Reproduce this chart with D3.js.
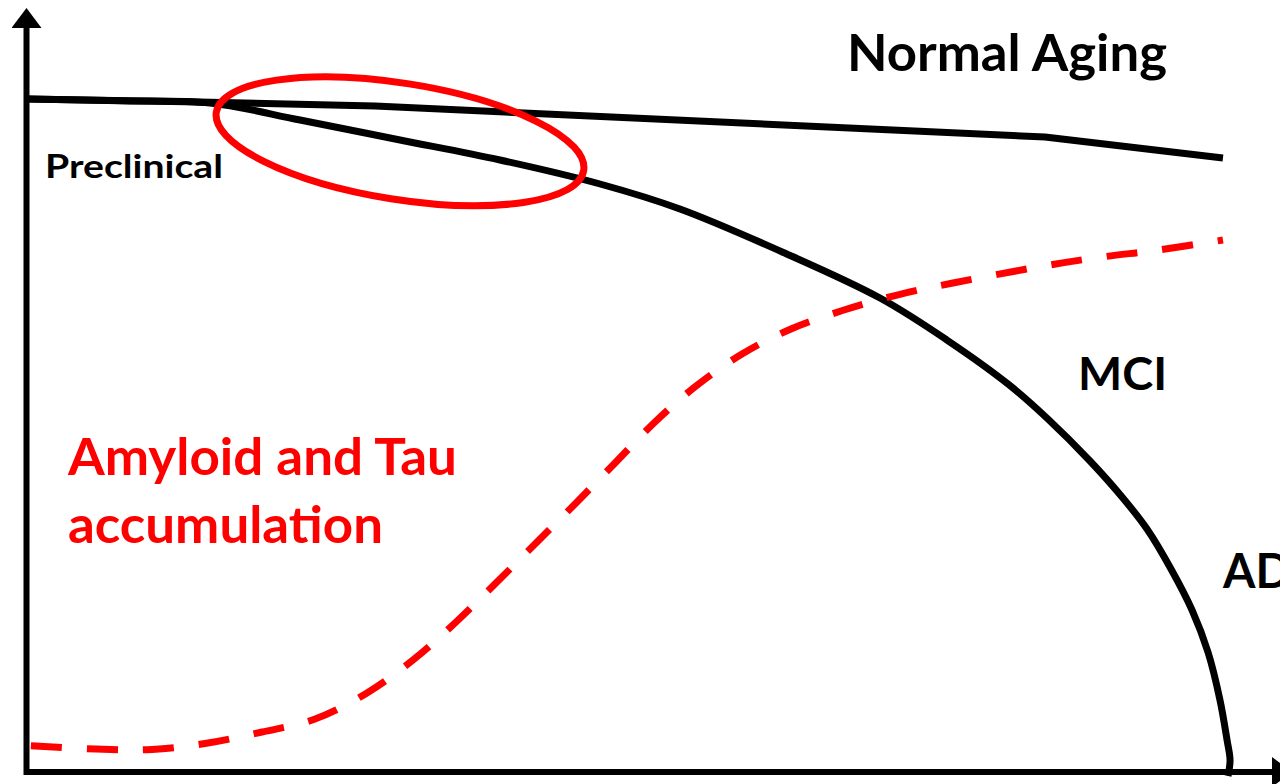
<!DOCTYPE html>
<html><head><meta charset="utf-8">
<script src="https://cdn.jsdelivr.net/npm/d3@7"></script>
<style>html,body{margin:0;padding:0;background:#fff;overflow:hidden}</style>
</head><body>
<svg id="chart" width="1280" height="784"></svg>
<script>
// ---- data (x: disease time 0..100, y: cognition / biomarker level 0..100) ----
const normalAgingX = [0, 14.33, 28.92, 84.75, 99.58];
const normalAgingY = [96.14, 95.71, 95.14, 90.71, 87.71];

const declineX = [0, 7.67, 15.17, 22.67, 31, 39.33, 47.67, 54.33, 62.67, 71, 76.58, 81.67, 85.08, 88.5, 91.17, 93.25, 95.25, 97, 98.33, 99.33, 99.92, 100.17, 100];
const declineY = [96.14, 95.9, 95.57, 93.14, 90.29, 87.43, 84.0, 80.43, 74.43, 67.71, 61.71, 55.43, 50.29, 44.43, 39.29, 34.71, 29, 23.14, 17.14, 10.29, 4.57, 1.71, -0.57];

const amyloidX = [0, 5.67, 10.33, 15, 19.5, 23.92, 28.25, 32.08, 35.67, 39.08, 42.42, 45.75, 49.08, 52.25, 55.67, 59.5, 63.58, 68, 72.42, 77.08, 85.17, 89.5, 94.17, 99.58];
const amyloidY = [3.79, 3.29, 3.21, 4.14, 5.71, 7.57, 11.29, 16, 21.43, 27.14, 32.86, 38.57, 44.43, 50, 55.14, 59.71, 63.29, 66, 68.14, 69.86, 72.43, 73.57, 74.57, 76];

const ellipseCenter = [31, 90.1];
const ellipseRadii = [15.5, 8.3];
const ellipseAngle = 9;

const labels = ["Normal Aging", "Preclinical", "MCI", "AD", "Amyloid and Tau", "accumulation"];

// ---- drawing ----
const svg = d3.select("#chart");
const x = d3.scaleLinear().domain([0, 100]).range([28, 1228]);
const y = d3.scaleLinear().domain([0, 100]).range([772, 72]);

const defs = svg.append("defs");
defs.append("marker").attr("id","arrow").attr("viewBox","0 0 20 30")
  .attr("refX",2).attr("refY",15).attr("markerWidth",20).attr("markerHeight",30)
  .attr("markerUnits","userSpaceOnUse").attr("orient","auto")
  .append("path").attr("d","M0,0 L20,15 L0,30 Z").attr("fill","#000");

// axes
svg.append("line").attr("x1", x(0) - 1.5).attr("y1", y(0) + 3).attr("x2", x(0) - 1.5).attr("y2", 26)
  .attr("stroke","#000").attr("stroke-width",6).attr("marker-end","url(#arrow)");
svg.append("line").attr("x1", x(0) - 4).attr("y1", y(0)).attr("x2", 1274).attr("y2", y(0))
  .attr("stroke","#000").attr("stroke-width",6).attr("marker-end","url(#arrow)");

const pts = (xs, ys) => xs.map((v,i)=>[v, ys[i]]);

// normal aging line
svg.append("path").datum(pts(normalAgingX, normalAgingY))
  .attr("d", d3.line().x(d=>x(d[0])).y(d=>y(d[1])).curve(d3.curveLinear))
  .attr("fill","none").attr("stroke","#000").attr("stroke-width",7).attr("stroke-linejoin","round");

// decline line
svg.append("path").datum(pts(declineX, declineY))
  .attr("d", d3.line().x(d=>x(d[0])).y(d=>y(d[1])).curve(d3.curveCatmullRom.alpha(0.5)))
  .attr("fill","none").attr("stroke","#000").attr("stroke-width",7);

// amyloid dashed line
svg.append("path").datum(pts(amyloidX, amyloidY))
  .attr("d", d3.line().x(d=>x(d[0])).y(d=>y(d[1])).curve(d3.curveCatmullRom.alpha(0.5)))
  .attr("fill","none").attr("stroke","#ff0000").attr("stroke-width",7)
  .attr("stroke-dasharray","31,25").attr("stroke-dashoffset",-3);

// ellipse highlight
const cx = x(ellipseCenter[0]), cy = y(ellipseCenter[1]);
svg.append("ellipse").attr("cx",cx).attr("cy",cy)
  .attr("rx", x(ellipseRadii[0]) - x(0)).attr("ry", y(0) - y(ellipseRadii[1]))
  .attr("transform",`rotate(${ellipseAngle},${cx},${cy})`)
  .attr("fill","none").attr("stroke","#ff0000").attr("stroke-width",7);

// labels
const font = "Lato, 'Open Sans', sans-serif";
const txt = (t, px, py, size, color, len) => {
  const e = svg.append("text").attr("x",px).attr("y",py).text(t)
    .attr("font-family",font).attr("font-weight","bold").attr("font-size",size).attr("fill",color);
  if (len) e.attr("textLength",len).attr("lengthAdjust","spacingAndGlyphs");
  return e;
};
txt(labels[0], 847, 71, 51, "#000", 320);
txt(labels[1], 45, 178, 32, "#000", 178);
txt(labels[2], 1078, 390, 46, "#000", 89);
txt(labels[3], 1223, 588, 48, "#000", 68);
txt(labels[4], 68, 475, 51, "#ff0000", 389);
txt(labels[5], 68, 543, 51, "#ff0000", 315);
</script>
</body></html>
